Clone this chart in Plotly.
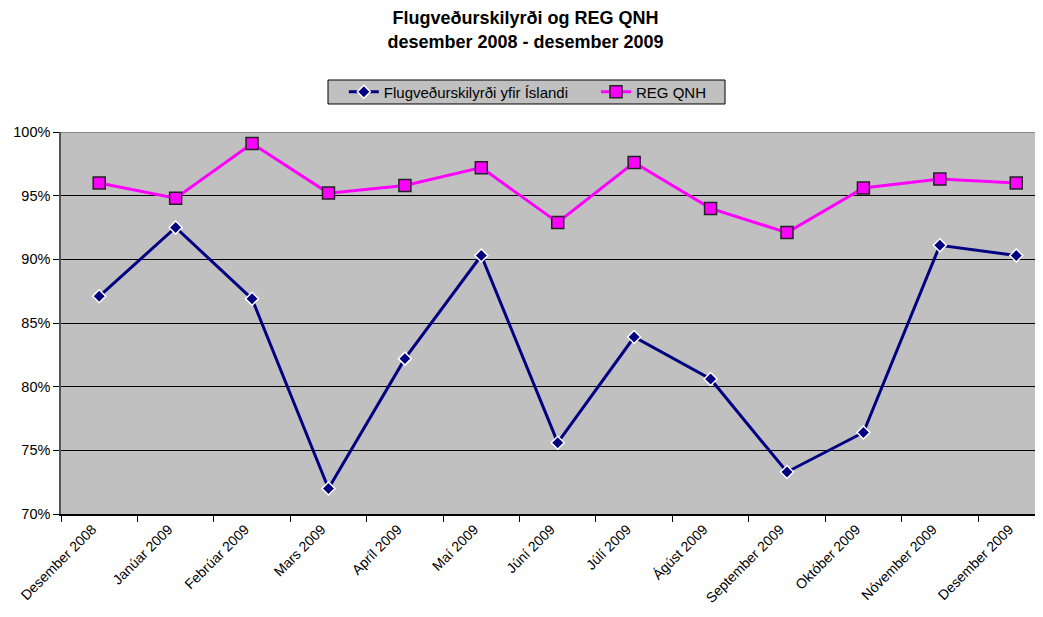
import plotly.graph_objects as go

categories = ["Desember 2008", "Janúar 2009", "Febrúar 2009", "Mars 2009", "Apríl 2009",
              "Maí 2009", "Júní 2009", "Júlí 2009", "Ágúst 2009", "September 2009",
              "Október 2009", "Nóvember 2009", "Desember 2009"]
flug = [87.1, 92.5, 86.9, 72.0, 82.2, 90.3, 75.6, 83.9, 80.6, 73.3, 76.4, 91.1, 90.3]
reg_qnh = [96.0, 94.8, 99.1, 95.2, 95.8, 97.2, 92.9, 97.6, 94.0, 92.1, 95.6, 96.3, 96.0]
y_ticks = [70, 75, 80, 85, 90, 95, 100]
y_labels = [f"{v}%" for v in y_ticks]

fig = go.Figure()
fig.add_trace(go.Scatter(
    x=categories, y=flug, name="Flugveðurskilyrði yfir Íslandi", mode="lines+markers",
    line=dict(color="#000080", width=3),
    marker=dict(symbol="diamond", size=10, color="#000080", line=dict(color="white", width=1.5)),
    legend="legend",
))
fig.add_trace(go.Scatter(
    x=categories, y=reg_qnh, name="REG QNH", mode="lines+markers",
    line=dict(color="#FF00FF", width=3),
    marker=dict(symbol="square", size=12, color="#FF00FF", line=dict(color="#222222", width=1.5)),
    legend="legend2",
))

leg_common = dict(orientation="h", xanchor="left", y=1.1047, yanchor="middle",
                  bgcolor="rgba(0,0,0,0)", borderwidth=0, font=dict(size=15),
                  itemwidth=30)

fig.update_layout(
    width=1035, height=601, autosize=False,
    margin=dict(l=53, r=0, t=124, b=95, pad=0),
    paper_bgcolor="white", plot_bgcolor="#C0C0C0",
    font=dict(family="Arial, Liberation Sans, sans-serif", size=14.5, color="black"),
    title=dict(text="<b>Flugveðurskilyrði og REG QNH<br>desember 2008 - desember 2009</b>",
               x=0.5, xanchor="center", xref="container", y=0.973, yanchor="middle",
               yref="container", font=dict(size=18, color="black")),
    showlegend=True,
    legend=dict(x=0.2880, **leg_common),
    legend2=dict(x=0.5448, **leg_common),
)
# legend frame
fig.add_shape(type="rect", xref="paper", yref="paper",
              x0=0.2719, x1=0.6762, y0=1.0733, y1=1.1361,
              fillcolor="#C0C0C0", line=dict(color="black", width=1), layer="below")

fig.update_xaxes(
    type="category", range=[-0.5, 12.35], tickson="boundaries",
    ticks="outside", ticklen=6, tickcolor="black", tickangle=-45,
    ticklabelshift=-7, automargin=False,
    showline=True, linecolor="black", linewidth=1.5, showgrid=False, zeroline=False,
    tickfont=dict(size=14),
)
fig.update_yaxes(
    range=[70, 100], tickvals=y_ticks, ticktext=y_labels, automargin=False,
    ticks="outside", ticklen=6, tickcolor="black",
    showline=True, linecolor="#555555", linewidth=1.5, mirror=False,
    showgrid=True, gridcolor="black", gridwidth=1, zeroline=False,
    tickfont=dict(size=14.5),
)
fig.add_shape(type="line", xref="paper", yref="y", x0=0, x1=1, y0=100, y1=100,
              line=dict(color="#777777", width=1.5))

fig.write_html("out.html")
